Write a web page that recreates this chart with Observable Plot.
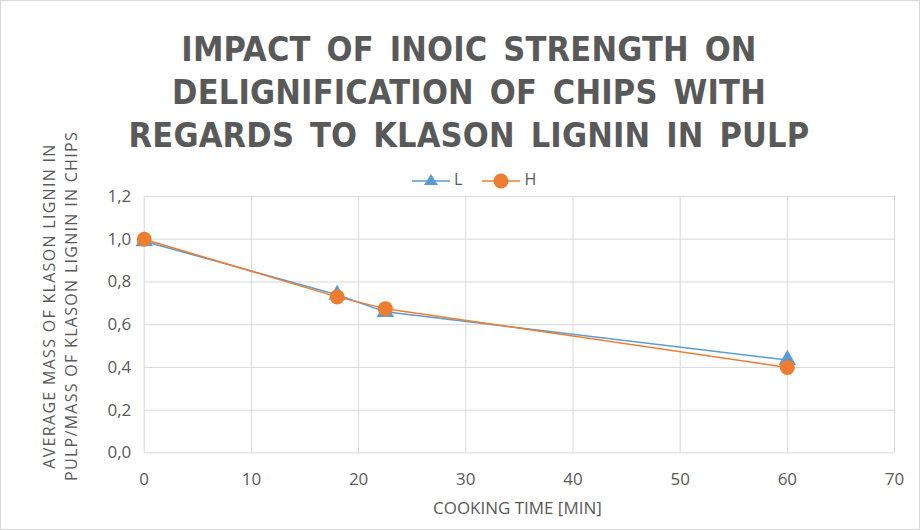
<!DOCTYPE html>
<html>
<head>
<meta charset="utf-8">
<script src="https://cdn.jsdelivr.net/npm/d3@7"></script>
<script src="https://cdn.jsdelivr.net/npm/@observablehq/plot@0.6"></script>
<style>
  body { margin: 0; background: #fff; }
  #wrap { position: relative; width: 918px; height: 528px; border: 1px solid #d9d9d9; overflow: hidden; font-family: "Open Sans", Lato, sans-serif; color: #595959; }
  #title { position: absolute; left: 0; top: 27px; width: 936px; text-align: center; font-family: "DejaVu Sans Condensed", Lato, sans-serif; font-weight: bold; font-size: 34px; letter-spacing: 0.2px; word-spacing: 5px; line-height: 43px; color: #595959; }
  #legend { position: absolute; top: 167px; left: 0; width: 946px; text-align: center; font-size: 16px; color: #595959; }
  #legend svg { vertical-align: middle; }
  #ylab { position: absolute; left: 59px; top: 305px; width: 400px; transform: translate(-50%, -50%) rotate(-90deg); text-align: center; font-size: 16px; letter-spacing: 1.3px; line-height: 22px; color: #595959; white-space: nowrap; }
  #chart { position: absolute; left: 0; top: 175px; }
</style>
</head>
<body>
<div id="wrap">
  <div id="title">IMPACT OF INOIC STRENGTH ON<br>DELIGNIFICATION OF CHIPS WITH<br>REGARDS TO KLASON LIGNIN IN PULP</div>
  <div id="legend"></div>
  <div id="ylab">AVERAGE MASS OF KLASON LIGNIN IN<br>PULP/MASS OF KLASON LIGNIN IN CHIPS</div>
  <div id="chart"></div>
</div>
<script>
const times = [0, 18, 22.5, 60];
const seriesL = [0.99, 0.74, 0.66, 0.435];
const seriesH = [1.0, 0.73, 0.675, 0.40];
const seriesNames = ["L", "H"];
const colors = ["#5B9BD5", "#ED7D31"];
const xTicks = [0, 10, 20, 30, 40, 50, 60, 70];
const yTicks = [0, 0.2, 0.4, 0.6, 0.8, 1.0, 1.2];

const dataL = times.map((t, i) => ({t, v: seriesL[i]}));
const dataH = times.map((t, i) => ({t, v: seriesH[i]}));
const fmt = d => d3.format(".1f")(d).replace(".", ",");

const plot = Plot.plot({
  width: 920,
  height: 355,
  marginTop: 20,
  marginBottom: 78,
  marginLeft: 143,
  marginRight: 25,
  style: {fontFamily: "'Open Sans', sans-serif", fontSize: "17px", color: "#595959", background: "transparent", overflow: "visible"},
  x: {domain: [0, 70], ticks: xTicks, tickSize: 0, tickPadding: 18, label: null},
  y: {domain: [0, 1.2], ticks: yTicks, tickSize: 0, tickPadding: 14, tickFormat: fmt, label: null},
  marks: [
    Plot.gridX(xTicks, {stroke: "#d9d9d9", strokeOpacity: 1, strokeWidth: 1}),
    Plot.gridY(yTicks, {stroke: "#d9d9d9", strokeOpacity: 1, strokeWidth: 1}),
    Plot.axisX({ticks: xTicks, tickSize: 0, tickPadding: 20, fontSize: 17}),
    Plot.axisY({ticks: yTicks, tickSize: 0, tickPadding: 13, tickFormat: fmt, fontSize: 17}),
    Plot.text(["COOKING TIME [MIN]"], {frameAnchor: "bottom", dx: -2, dy: 61, fontSize: 17, fill: "#595959", letterSpacing: "1px"}),
    Plot.line(dataL, {x: "t", y: "v", stroke: colors[0], strokeWidth: 1.5}),
    Plot.dot(dataL, {x: "t", y: "v", symbol: "triangle", r: 6.5, fill: colors[0], stroke: null}),
    Plot.line(dataH, {x: "t", y: "v", stroke: colors[1], strokeWidth: 1.5}),
    Plot.dot(dataH, {x: "t", y: "v", symbol: "circle", r: 7.5, fill: colors[1], stroke: null})
  ]
});
document.getElementById("chart").appendChild(plot);

// legend
const leg = document.getElementById("legend");
seriesNames.forEach((name, i) => {
  const span = document.createElement("span");
  span.style.margin = "0 10px";
  const sym = i === 0
    ? `<polygon points="19,3 26,14 12,14" fill="${colors[i]}"/>`
    : `<circle cx="19" cy="10" r="7.5" fill="${colors[i]}"/>`;
  span.innerHTML = `<svg width="38" height="20"><line x1="0" x2="38" y1="10" y2="10" stroke="${colors[i]}" stroke-width="1.5"/>${sym}</svg> ${name}`;
  leg.appendChild(span);
});
</script>
</body>
</html>
